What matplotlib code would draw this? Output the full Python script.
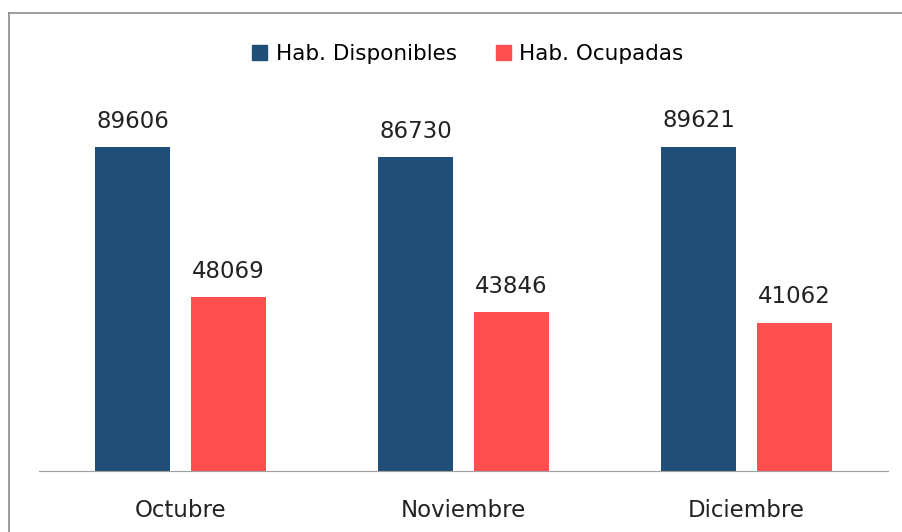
import numpy as np
import matplotlib.pyplot as plt
from matplotlib.lines import Line2D
from matplotlib.patches import Patch

months = ['Octubre', 'Noviembre', 'Diciembre']
disponibles = [89606, 86730, 89621]
ocupadas = [48069, 43846, 41062]
series = ['Hab. Disponibles', 'Hab. Ocupadas']
colors = ['#1f4e79', '#ff4f4f']

fig = plt.figure(figsize=(9.03, 5.32), dpi=100)
ax = fig.add_axes([39/903, 61/532, 849/903, 361.6/532])

x = np.arange(len(months))
w = 0.265
off = 0.168
b1 = ax.bar(x - off, disponibles, w, color=colors[0])
b2 = ax.bar(x + off, ocupadas, w, color=colors[1])
for bars in (b1, b2):
    for r in bars:
        ax.text(r.get_x() + r.get_width()/2, r.get_height() + 4000, str(int(r.get_height())),
                ha='center', va='bottom', fontsize=16.5, color='#222222')

ax.set_xlim(-0.5, 2.5)
ax.set_ylim(0, 100000)
ax.set_xticks(x)
ax.set_xticklabels(months, fontsize=16.5, color='#222222')
ax.tick_params(axis='x', length=0, pad=20)
ax.set_yticks([])
for s in ['top', 'right', 'left']:
    ax.spines[s].set_visible(False)
ax.spines['bottom'].set_color('#a0a0a0')

handles = [Patch(color=c) for c in colors]
fig.legend(handles, series, loc='center', bbox_to_anchor=(468/903, 1 - 54/532), ncol=2,
           frameon=False, fontsize=15.5, handlelength=0.7, handleheight=0.7,
           handletextpad=0.4, columnspacing=1.8)

# outer frame: only top and left edges fall inside the picture
top = 1 - 13/532
left = 9/903
fig.add_artist(Line2D([left, 1.0], [top, top], transform=fig.transFigure, color='#8c8c8c', lw=1.2))
fig.add_artist(Line2D([left, left], [0, top], transform=fig.transFigure, color='#8c8c8c', lw=1.2))

fig.savefig('out.png', dpi=100)
